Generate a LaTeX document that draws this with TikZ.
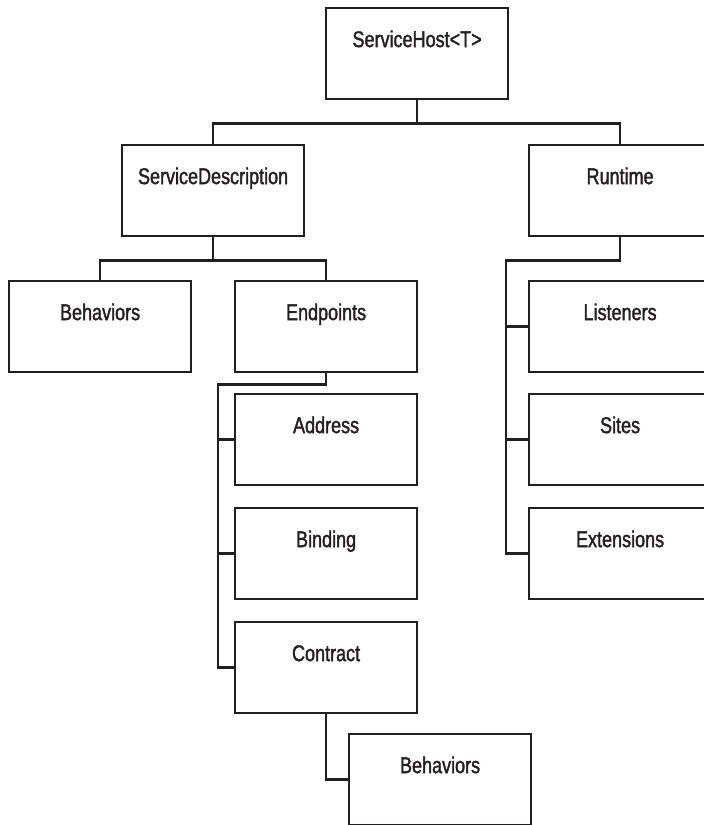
\documentclass[tikz,border=0pt]{standalone}
\usepackage{fontspec}
\setmainfont[FakeStretch=0.79,FakeBold=1.6]{Liberation Sans}
\usetikzlibrary{calc}
\definecolor{ink}{HTML}{231F20}
\begin{document}
\begin{tikzpicture}[x=1pt,y=-1pt,
  box/.style={draw=ink,line width=2.2pt,rectangle,anchor=north west,inner sep=0pt,
    minimum width=182pt,minimum height=91pt,text width=182pt,align=center,
    text height=39pt,text depth=52pt,
    font=\fontsize{22.8}{26}\selectfont,text=ink},
  link/.style={draw=ink,line width=2.6pt,line join=miter,line cap=rect}]
\useasboundingbox (0,0) rectangle (704,825);

% class boxes
\node[box] (host) at (325,7)   {ServiceHost<T>};
\node[box] (sd)   at (121,144) {ServiceDescription};
\node[box] (rt)   at (528,144) {Runtime};
\node[box] (beh)  at (8,280)   {Behaviors};
\node[box] (ep)   at (234,280) {Endpoints};
\node[box] (lis)  at (528,280) {Listeners};
\node[box] (addr) at (234,393) {Address};
\node[box] (site) at (528,393) {Sites};
\node[box] (bind) at (234,507) {Binding};
\node[box] (ext)  at (528,507) {Extensions};
\node[box] (ct)   at (234,621) {Contract};
\node[box] (cbeh) at (348,733) {Behaviors};

% host -> description, runtime
\coordinate (hj) at ($(host.south)+(0,23)$);
\draw[link] (host.south) -- (hj);
\draw[link] (sd.north) |- (hj) -| (rt.north);

% description -> behaviors, endpoints
\coordinate (sj) at ($(sd.south)+(0,23)$);
\draw[link] (sd.south) -- (sj);
\draw[link] (beh.north) |- (sj) -| (ep.north);

% endpoints -> address, binding, contract
\coordinate (ebus) at ($(ct.west)+(-16,0)$);
\draw[link] (ep.south) -- ++(0,11) -| (ebus) -- (ct.west);
\draw[link] (addr.west) -- (addr.west -| ebus);
\draw[link] (bind.west) -- (bind.west -| ebus);

% contract -> behaviors
\draw[link] (ct.south) |- (cbeh.west);

% runtime -> listeners, sites, extensions
\coordinate (rbus) at ($(ext.west)+(-22,0)$);
\draw[link] (rt.south) -- ++(0,23) -| (rbus) -- (ext.west);
\draw[link] (lis.west) -- (lis.west -| rbus);
\draw[link] (site.west) -- (site.west -| rbus);
\end{tikzpicture}
\end{document}
